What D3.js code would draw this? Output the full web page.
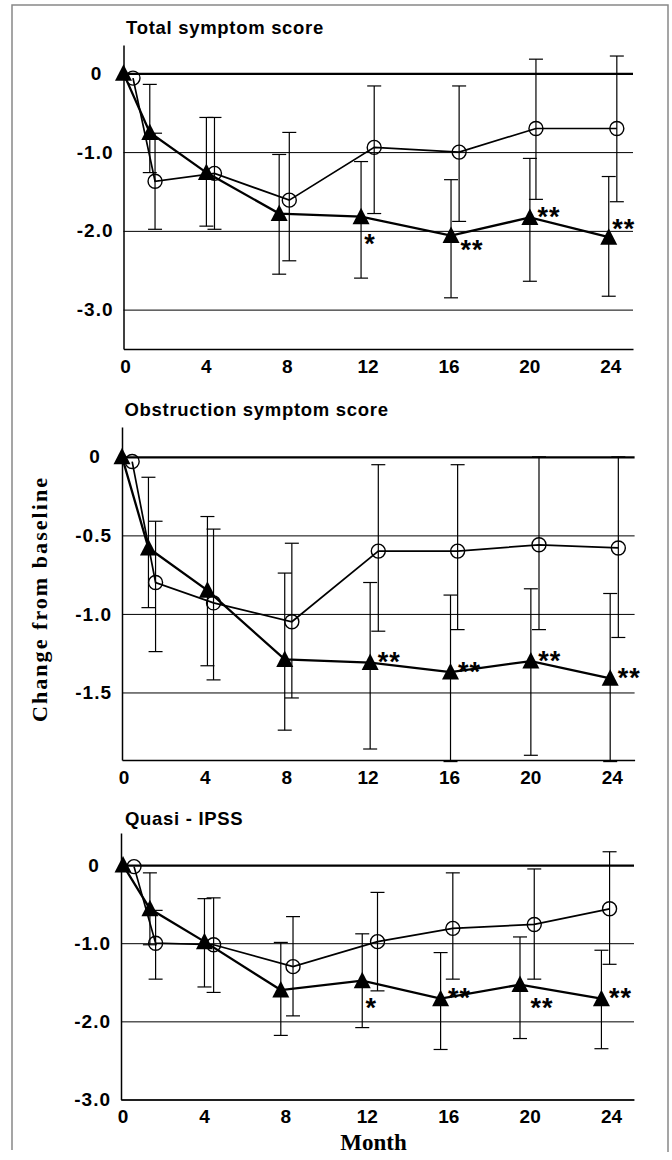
<!DOCTYPE html>
<html>
<head>
<meta charset="utf-8">
<script src="https://cdnjs.cloudflare.com/ajax/libs/d3/7.8.5/d3.min.js"></script>
<style>
  body { margin: 0; background: #fff; }
  svg { display: block; }
</style>
</head>
<body>
<div id="chart"></div>
<script>
// x axis ticks (months)
var monthTicks = [0, 4, 8, 12, 16, 20, 24];

// Total symptom score  (triangles = active, circles = placebo)
var totalTriMonth = [0, 1.3, 4.1, 7.7, 11.75, 16.2, 20.1, 24.0];
var totalTriMean = [0, -0.75, -1.26, -1.78, -1.82, -2.06, -1.83, -2.08];
var totalTriHigh = [null, -0.14, -0.56, -1.03, -1.12, -1.35, -1.08, -1.31];
var totalTriLow = [null, -1.26, -1.94, -2.55, -2.60, -2.85, -2.64, -2.83];
var totalCircMonth = [0.47, 1.56, 4.5, 8.2, 12.4, 16.6, 20.4, 24.4];
var totalCircMean = [-0.06, -1.37, -1.27, -1.61, -0.94, -1.0, -0.70, -0.70];
var totalCircHigh = [null, -0.76, -0.56, -0.75, -0.16, -0.16, 0.18, 0.22];
var totalCircLow = [null, -1.98, -1.98, -2.38, -1.78, -1.88, -1.60, -1.63];
var totalStars = ["", "", "", "", "*", "**", "**", "**"];
var totalTicks = [0, -1, -2, -3];

// Obstruction symptom score
var obsTriMonth = [0, 1.3, 4.2, 8.0, 12.2, 16.15, 20.1, 24.0];
var obsTriMean = [0, -0.58, -0.85, -1.29, -1.31, -1.37, -1.30, -1.41];
var obsTriHigh = [null, -0.13, -0.38, -0.74, -0.80, -0.88, -0.84, -0.87];
var obsTriLow = [null, -0.96, -1.33, -1.74, -1.86, -1.94, -1.90, -1.94];
var obsCircMonth = [0.5, 1.65, 4.5, 8.35, 12.6, 16.5, 20.5, 24.4];
var obsCircMean = [-0.03, -0.80, -0.93, -1.05, -0.60, -0.60, -0.56, -0.58];
var obsCircHigh = [null, -0.41, -0.46, -0.55, -0.05, -0.05, 0.0, 0.0];
var obsCircLow = [null, -1.24, -1.42, -1.535, -1.11, -1.10, -1.10, -1.15];
var obsStars = ["", "", "", "", "**", "**", "**", "**"];
var obsTicks = [0, -0.5, -1, -1.5];

// Quasi - IPSS
var ipssTriMonth = [0.1, 1.42, 4.1, 7.85, 11.85, 15.7, 19.6, 23.6];
var ipssTriMean = [0, -0.56, -0.98, -1.6, -1.48, -1.71, -1.53, -1.71];
var ipssTriHigh = [null, -0.10, -0.43, -0.99, -0.88, -1.12, -0.92, -1.09];
var ipssTriLow = [null, -1.02, -1.56, -2.18, -2.08, -2.36, -2.22, -2.35];
var ipssCircMonth = [0.64, 1.7, 4.55, 8.45, 12.6, 16.3, 20.3, 24.0];
var ipssCircMean = [-0.02, -1.0, -1.02, -1.30, -0.98, -0.81, -0.76, -0.56];
var ipssCircHigh = [null, -0.58, -0.42, -0.66, -0.35, -0.10, -0.05, 0.17];
var ipssCircLow = [null, -1.46, -1.63, -1.93, -1.61, -1.46, -1.46, -1.27];
var ipssStars = ["", "", "", "", "*", "**", "**", "**"];
var ipssTicks = [0, -1, -2, -3];

// star offsets from the triangle (layout only)
var starOffsets = {
  below: [9, 21],
  right: [19, -7],
  upright: [15, -15],
  lowright: [21, 8],
  belowright: [22, 17]
};

// plain hyphen, one decimal, like the printed figure
var tickFmt = function(d) { return d === 0 ? "0" : d.toFixed(1); };

var panels = [
  {
    title: "Total symptom score", ticks: totalTicks,
    tri: [totalTriMonth, totalTriMean, totalTriHigh, totalTriLow],
    circ: [totalCircMonth, totalCircMean, totalCircHigh, totalCircLow],
    stars: totalStars,
    starSpots: ["", "", "", "", "below", "lowright", "right", "upright"],
    left: 123.5, right: 633, top: 45, bottom: 349, yMax: 0.36, yMin: -3.5,
    titleX: 126, titleY: 33.5
  },
  {
    title: "Obstruction symptom score", ticks: obsTicks,
    tri: [obsTriMonth, obsTriMean, obsTriHigh, obsTriLow],
    circ: [obsCircMonth, obsCircMean, obsCircHigh, obsCircLow],
    stars: obsStars,
    starSpots: ["", "", "", "", "right", "right", "right", "right"],
    left: 122, right: 634.6, top: 427, bottom: 760, yMax: 0.19, yMin: -1.93,
    titleX: 124.5, titleY: 416
  },
  {
    title: "Quasi - IPSS", ticks: ipssTicks,
    tri: [ipssTriMonth, ipssTriMean, ipssTriHigh, ipssTriLow],
    circ: [ipssCircMonth, ipssCircMean, ipssCircHigh, ipssCircLow],
    stars: ipssStars,
    starSpots: ["", "", "", "", "below", "right", "belowright", "right"],
    left: 121, right: 634, top: 833, bottom: 1099.5, yMax: 0.41, yMin: -3.0,
    titleX: 125, titleY: 825
  }
];

var svgWidth = 672, svgHeight = 1160;
var sansFont = "'Liberation Sans', Arial, Helvetica, sans-serif";
var serifFont = "'Liberation Serif', 'Times New Roman', serif";

var svg = d3.select("#chart").append("svg")
  .attr("width", svgWidth)
  .attr("height", svgHeight);

// page frame
svg.append("path")
  .attr("d", "M12,1150 L12,5 L668,5 L668,1152")
  .attr("fill", "none")
  .attr("stroke", "#888")
  .attr("stroke-width", 1.5);

function zip(cols) {
  return cols[0].map(function(m, i) {
    return { m: m, v: cols[1][i], hi: cols[2][i], lo: cols[3][i] };
  });
}

panels.forEach(function(p) {
  var x = d3.scaleLinear().domain([0, 25.2]).range([p.left, p.right]);
  var y = d3.scaleLinear().domain([p.yMin, p.yMax]).range([p.bottom, p.top]);
  var g = svg.append("g");

  // title
  g.append("text")
    .attr("x", p.titleX)
    .attr("y", p.titleY)
    .attr("font-family", sansFont)
    .attr("font-weight", "bold")
    .attr("font-size", 18.5)
    .attr("letter-spacing", 0.7)
    .text(p.title);

  // y axis with gridlines
  var yAxis = d3.axisLeft(y)
    .tickValues(p.ticks)
    .tickSize(-(p.right - p.left))
    .tickSizeOuter(0)
    .tickPadding(10)
    .tickFormat(tickFmt);

  var yg = g.append("g")
    .attr("transform", `translate(${p.left},0)`)
    .call(yAxis);
  yg.select(".domain").attr("stroke", "#000").attr("stroke-width", 1.5);
  yg.selectAll(".tick line")
    .attr("stroke", "#000")
    .attr("stroke-width", function(d) { return d === 0 ? 2.2 : 1; });
  yg.selectAll(".tick text")
    .attr("font-family", sansFont)
    .attr("font-weight", "bold")
    .attr("font-size", 19)
    .attr("letter-spacing", 1)
    .attr("fill", "#000");
  yg.selectAll(".tick text").filter(function(d) { return d === 0; })
    .attr("text-anchor", "middle")
    .attr("x", -27);

  // x axis
  var xAxis = d3.axisBottom(x)
    .tickValues(monthTicks)
    .tickSize(0)
    .tickPadding(10.5)
    .tickFormat(d3.format("d"));
  var xg = g.append("g")
    .attr("transform", `translate(0,${p.bottom})`)
    .call(xAxis);
  xg.select(".domain").attr("stroke", "#000").attr("stroke-width", 1.5);
  xg.selectAll(".tick text")
    .attr("font-family", sansFont)
    .attr("font-weight", "bold")
    .attr("font-size", 19)
    .attr("fill", "#000")
    .attr("dx", 1.5);

  var triData = zip(p.tri);
  var circData = zip(p.circ);

  // error bars
  [triData, circData].forEach(function(series) {
    var bars = g.append("g").selectAll("g")
      .data(series.filter(function(d) { return d.hi !== null; }))
      .enter().append("g")
      .attr("stroke", "#000")
      .attr("stroke-width", 1.2);
    bars.append("line")
      .attr("x1", function(d) { return x(d.m); })
      .attr("x2", function(d) { return x(d.m); })
      .attr("y1", function(d) { return y(d.hi); })
      .attr("y2", function(d) { return y(d.lo); });
    bars.append("line")
      .attr("x1", function(d) { return x(d.m) - 7; })
      .attr("x2", function(d) { return x(d.m) + 7; })
      .attr("y1", function(d) { return y(d.hi); })
      .attr("y2", function(d) { return y(d.hi); });
    bars.append("line")
      .attr("x1", function(d) { return x(d.m) - 7; })
      .attr("x2", function(d) { return x(d.m) + 7; })
      .attr("y1", function(d) { return y(d.lo); })
      .attr("y2", function(d) { return y(d.lo); });
  });

  var line = d3.line()
    .x(function(d) { return x(d.m); })
    .y(function(d) { return y(d.v); });

  g.append("path")
    .datum(circData)
    .attr("d", line)
    .attr("fill", "none")
    .attr("stroke", "#000")
    .attr("stroke-width", 1.7);

  g.append("path")
    .datum(triData)
    .attr("d", line)
    .attr("fill", "none")
    .attr("stroke", "#000")
    .attr("stroke-width", 2.3);

  // open circles
  g.append("g").selectAll("circle")
    .data(circData)
    .enter().append("circle")
    .attr("cx", function(d) { return x(d.m); })
    .attr("cy", function(d) { return y(d.v); })
    .attr("r", 7)
    .attr("fill", "none")
    .attr("stroke", "#000")
    .attr("stroke-width", 1.4);

  // filled triangles
  g.append("g").selectAll("path")
    .data(triData)
    .enter().append("path")
    .attr("d", "M0,-9L8.5,7.5L-8.5,7.5Z")
    .attr("transform", function(d) { return `translate(${x(d.m)},${y(d.v)})`; })
    .attr("fill", "#000");

  // significance stars
  g.append("g").selectAll("text")
    .data(triData.map(function(d, i) { return { d: d, s: p.stars[i], spot: p.starSpots[i] }; })
      .filter(function(o) { return o.s !== ""; }))
    .enter().append("text")
    .attr("x", function(o) { return x(o.d.m) + starOffsets[o.spot][0]; })
    .attr("y", function(o) { return y(o.d.v) + starOffsets[o.spot][1] + 15.5; })
    .attr("text-anchor", "middle")
    .attr("font-family", sansFont)
    .attr("font-weight", "bold")
    .attr("font-size", 27)
    .attr("letter-spacing", 1)
    .text(function(o) { return o.s; });
});

// shared axis titles
svg.append("text")
  .attr("transform", "translate(47,600) rotate(-90)")
  .attr("text-anchor", "middle")
  .attr("font-family", serifFont)
  .attr("font-weight", "bold")
  .attr("font-size", 22)
  .attr("textLength", 244)
  .attr("lengthAdjust", "spacing")
  .text("Change from baseline");

svg.append("text")
  .attr("x", 373.5)
  .attr("y", 1150)
  .attr("text-anchor", "middle")
  .attr("font-family", serifFont)
  .attr("font-weight", "bold")
  .attr("font-size", 23)
  .text("Month");
</script>
</body>
</html>
